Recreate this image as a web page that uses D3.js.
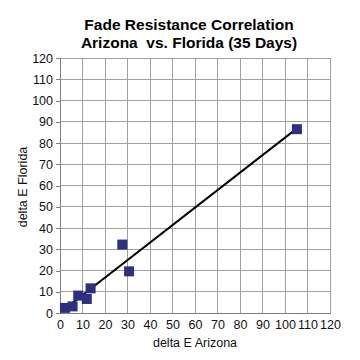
<!DOCTYPE html>
<html><head><meta charset="utf-8">
<script src="https://cdn.jsdelivr.net/npm/d3@7"></script>
<style>html,body{margin:0;padding:0;background:#fff;} text{white-space:pre;}</style>
</head><body>
<svg id="c" width="360" height="360"></svg>
<script>
const titleLines = ["Fade Resistance Correlation", "Arizona  vs. Florida (35 Days)"];
const xLabel = "delta E Arizona";
const yLabel = "delta E Florida";
const arizona = [2.2, 5.6, 8.1, 11.9, 13.6, 27.7, 30.7, 105.3];
const florida = [2.4, 3.1, 8.2, 6.6, 11.6, 32.2, 19.6, 86.5];
const ticks = [0,10,20,30,40,50,60,70,80,90,100,110,120];

const svg = d3.select("#c");
svg.append("rect").attr("width",360).attr("height",360).attr("fill","#fff");
const L=60, R=330, T=58, B=313;
const x = d3.scaleLinear().domain([0,120]).range([L,R]);
const y = d3.scaleLinear().domain([0,120]).range([B,T]);

// grid
svg.append("g").selectAll("line").data(ticks.slice(1)).join("line")
  .attr("x1",d=>x(d)).attr("x2",d=>x(d)).attr("y1",T).attr("y2",B)
  .attr("stroke","#a0a0a0").attr("stroke-width",1).attr("shape-rendering","crispEdges");
svg.append("g").selectAll("line").data(ticks.slice(1)).join("line")
  .attr("y1",d=>y(d)).attr("y2",d=>y(d)).attr("x1",L).attr("x2",R)
  .attr("stroke","#a0a0a0").attr("stroke-width",1).attr("shape-rendering","crispEdges");

// axes
const ya = svg.append("g").attr("transform",`translate(${L},0)`)
  .call(d3.axisLeft(y).tickValues(ticks).tickSize(4).tickPadding(3));
const xa = svg.append("g").attr("transform",`translate(0,${B})`)
  .call(d3.axisBottom(x).tickValues(ticks).tickSize(0).tickPadding(7));
[ya,xa].forEach(a=>{
  a.selectAll("path,line").attr("stroke","#808080").attr("shape-rendering","crispEdges");
  a.selectAll("text").attr("font-family","Arial, 'Liberation Sans', sans-serif")
    .attr("font-size",12.5).attr("fill","#111");
});

// trendline (least squares of the data)
const n = arizona.length;
const mx = d3.mean(arizona), my = d3.mean(florida);
let sxy=0,sxx=0;
for(let i=0;i<n;i++){sxy+=(arizona[i]-mx)*(florida[i]-my);sxx+=(arizona[i]-mx)**2;}
const slope=sxy/sxx, icpt=my-slope*mx;
const x0=d3.min(arizona), x1=d3.max(arizona);
svg.append("line").attr("x1",x(x0)).attr("y1",y(icpt+slope*x0))
  .attr("x2",x(x1)).attr("y2",y(icpt+slope*x1))
  .attr("stroke","#000").attr("stroke-width",2);

// points
const s=10;
svg.append("g").selectAll("rect").data(arizona.map((a,i)=>[a,florida[i]])).join("rect")
  .attr("x",d=>x(d[0])-s/2).attr("y",d=>y(d[1])-s/2).attr("width",s).attr("height",s)
  .attr("fill","#2f2f80");

// titles
svg.append("g").selectAll("text").data(titleLines).join("text")
  .attr("x",189).attr("y",(d,i)=>30+i*18).attr("text-anchor","middle")
  .attr("font-family","Arial, 'Liberation Sans', sans-serif").attr("font-weight","bold")
  .attr("font-size",15.5).attr("fill","#000").text(d=>d);
svg.append("text").attr("x",195).attr("y",347).attr("text-anchor","middle")
  .attr("font-family","Arial, 'Liberation Sans', sans-serif").attr("font-size",12.5)
  .attr("fill","#111").text(xLabel);
svg.append("text").attr("transform","translate(27,187) rotate(-90)").attr("text-anchor","middle")
  .attr("font-family","Arial, 'Liberation Sans', sans-serif").attr("font-size",12.5)
  .attr("fill","#111").text(yLabel);
</script>
</body></html>
